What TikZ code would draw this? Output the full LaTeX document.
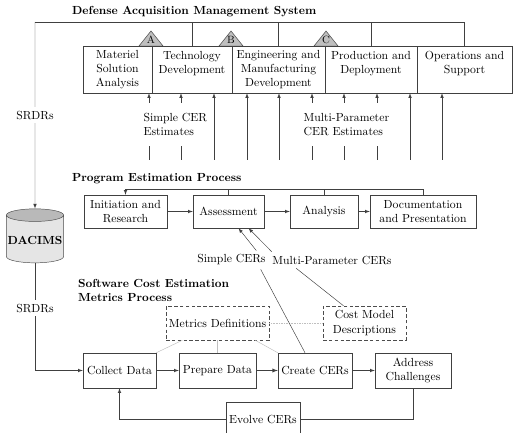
\documentclass[tikz,border=0pt]{standalone}
\usetikzlibrary{shapes.geometric}
\begin{document}
\begin{tikzpicture}[x=0.03cm, y=-0.03cm, >=latex,
		line/.style={draw=black!75},
		phase/.style={draw=black!75, align=center, minimum height=1.41cm, inner xsep=1pt},
		stepbox/.style={draw=black!75, align=center, inner xsep=2pt},
		dashbox/.style={draw=black!70, densely dashed, align=center, inner xsep=2pt, minimum height=1.02cm},
		title/.style={font=\bfseries, anchor=west, align=left},
		cover/.style={fill=white, align=left, inner xsep=2pt, inner ysep=9pt},
		faint/.style={draw=black!25}]
		\useasboundingbox (0,0) rectangle (515,433);

		% Defense Acquisition Management System
		\node[title] (dams) at (68,12) {Defense Acquisition Management System};
		\node[phase, minimum width=2.07cm] (msa) at (117.5,69.5) {Materiel\\Solution\\Analysis};
		\node[phase, minimum width=2.4cm] (td) at (192,69.5) {Technology\\Development\\\mbox{}};
		\node[phase, minimum width=2.79cm] (emd) at (278.5,69.5) {Engineering and\\Manufacturing\\Development};
		\node[phase, minimum width=2.76cm] (pd) at (371,69.5) {Production and\\Deployment\\\mbox{}};
		\node[phase, minimum width=2.85cm] (os) at (464.5,69.5) {Operations and\\Support\\\mbox{}};
		\foreach \m/\x in {A/151, B/231, C/326} {
			\draw[line, fill=gray!50] (\x-12,46) -- (\x,31) -- (\x+12,46) -- cycle;
			\node[font=\small, inner sep=0pt] (ms\m) at (\x,40) {\m};
		}
		\foreach \x [count=\i] in {149,181,214,247,279,312,344,377,410,442} {
			\coordinate (in\i) at (\x,160);
			\draw[line, ->] (in\i) -- (in\i |- msa.south);
		}
		\node[cover, anchor=west] (simpleest) at (141,124.5) {Simple CER\\Estimates};
		\node[cover, anchor=west] (multiest) at (301,124.5) {Multi-Parameter\\CER Estimates};

		% DACIMS
		\node[cylinder, shape border rotate=90, aspect=0.22, draw=black!70,
			cylinder uses custom fill, cylinder body fill=gray!20, cylinder end fill=gray!55,
			inner xsep=1pt, inner ysep=2pt,
			minimum width=1.62cm, minimum height=1.62cm, font=\bfseries] (dacims) at (35,240) {DACIMS};
		\coordinate (busleft) at (35,22);
		\draw[line] (os.north) |- (busleft);
		\foreach \p in {td,emd,pd} \draw[line] (\p.north) -- (\p.north |- busleft);
		\draw[line, ->] (busleft) -- node[fill=white] (srdrtop) {SRDRs} (dacims.north);

		% Program Estimation Process
		\node[title] (pep) at (68,179) {Program Estimation Process};
		\node[stepbox, minimum width=2.49cm, minimum height=0.99cm] (init) at (125.5,211.5) {Initiation and\\Research};
		\node[stepbox, minimum width=2.13cm, minimum height=0.99cm] (assess) at (228.5,211.5) {Assessment};
		\node[stepbox, minimum width=2.04cm, minimum height=0.99cm] (analysis) at (324,211.5) {Analysis};
		\node[stepbox, minimum width=3.18cm, minimum height=0.99cm] (doc) at (423,211.5) {Documentation\\and Presentation};
		\draw[line, ->] (init) -- (assess);
		\draw[line, ->] (assess) -- (analysis);
		\draw[line, ->] (analysis) -- (doc);
		\coordinate (fb) at (0,189);
		\draw[line, ->] (doc.north) |- (init.north |- fb) -- (init.north);
		\draw[line] (assess.north) -- (assess.north |- fb);
		\draw[line] (analysis.north) -- (analysis.north |- fb);
		\node (simple) at (231.5,260) {Simple CERs};
		\node (multi) at (332,260) {Multi-Parameter CERs};
		\draw[line, ->] ([xshift=-0.4cm]simple.north east) -- ([xshift=0.3cm]assess.south);
		\draw[line, ->] ([xshift=0.1cm]multi.north west) -- ([xshift=0.6cm]assess.south);

		% Software Cost Estimation Metrics Process
		\node[title, anchor=north west] (scemp) at (74,275) {Software Cost Estimation\\Metrics Process};
		\node[dashbox, minimum width=3.09cm] (metdef) at (217.5,323) {Metrics Definitions};
		\node[dashbox, minimum width=2.49cm] (costmodel) at (364.5,323) {Cost Model\\Descriptions};
		\draw[black!25, densely dotted] (metdef) -- (costmodel);
		\node[stepbox, minimum width=2.19cm, minimum height=1.05cm] (collect) at (119.5,370.5) {Collect Data};
		\node[stepbox, minimum width=2.31cm, minimum height=1.05cm] (prepare) at (217.5,370.5) {Prepare Data};
		\node[stepbox, minimum width=2.22cm, minimum height=1.05cm] (create) at (315,370.5) {Create CERs};
		\node[stepbox, minimum width=2.28cm, minimum height=1.05cm] (address) at (413,370.5) {Address\\Challenges};
		\node[stepbox, minimum width=2.22cm, minimum height=1.02cm] (evolve) at (263,419) {Evolve CERs};
		\draw[line, ->] (collect) -- (prepare);
		\draw[line, ->, semithick] (prepare) -- (create);
		\draw[line, ->] (create) -- (address);
		\draw[line] (address.south) |- (evolve.east);
		\draw[line, ->] (evolve.west) -| (collect.south);
		\draw[faint] ([xshift=0.5cm]metdef.south west) -- (collect.north east);
		\draw[faint] (metdef.south) -- (prepare.north);
		\draw[faint] ([xshift=-0.42cm]metdef.south east) -- (create.north west);
		\draw[line] ([xshift=-0.27cm]simple.south east) -- ([xshift=-0.3cm]create.north);
		\draw[line] ([xshift=0.84cm]multi.south west) -- ([xshift=-0.63cm]costmodel.north);
		\draw[line, ->] (dacims.south) -- node[fill=white, pos=0.42] (srdrlow) {SRDRs} (dacims.south |- collect.west) -- (collect.west);
	\end{tikzpicture}
\end{document}
